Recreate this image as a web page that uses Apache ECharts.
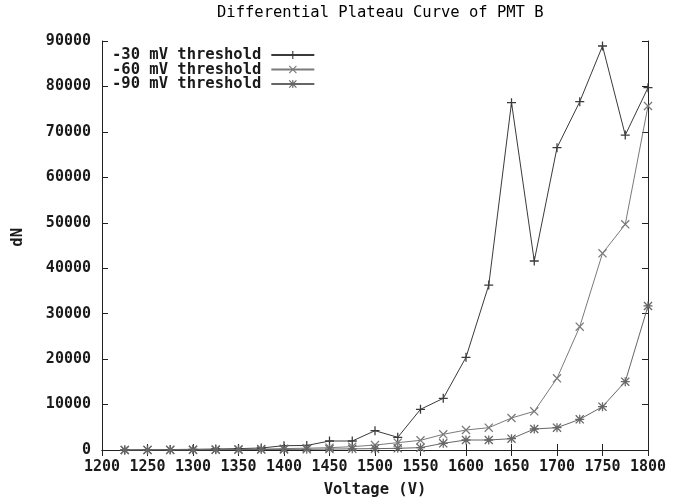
<!DOCTYPE html>
<html>
<head>
<meta charset="utf-8">
<script src="https://cdn.jsdelivr.net/npm/echarts@6/dist/echarts.min.js"></script>
<style>html,body{margin:0;padding:0;background:#fff}#c{width:673px;height:504px}</style>
</head>
<body>
<div id="c"></div>
<script>
const voltages = [1225,1250,1275,1300,1325,1350,1375,1400,1425,1450,1475,1500,1525,1550,1575,1600,1625,1650,1675,1700,1725,1750,1775,1800];
const thr30 = [0,50,100,150,220,300,440,950,1000,1980,1980,4250,2790,8950,11370,20400,36300,76430,41590,66520,76640,88900,69300,79730];
const thr60 = [0,20,40,60,100,150,200,300,400,510,730,1100,1610,2130,3450,4400,4910,7040,8510,15780,27130,43280,49660,75700];
const thr90 = [0,10,20,30,50,80,100,130,150,200,250,300,370,520,1470,2200,2200,2490,4620,4910,6750,9540,15040,31690];
const seriesNames = ['-30 mV threshold','-60 mV threshold','-90 mV threshold'];
const titleText = 'Differential Plateau Curve of PMT B';
const xName = 'Voltage (V)';
const yName = 'dN';

const FONT = 'DejaVu Sans Mono';
const PLUS = 'path://M4.3,0H5.7V10H4.3Z M0,4.3H10V5.7H0Z';
const CROSS = 'path://M0,1L1,0L10,9L9,10Z M9,0L10,1L1,10L0,9Z';
const STAR = 'path://M4.3,0H5.7V10H4.3Z M0,4.3H10V5.7H0Z M0,1L1,0L10,9L9,10Z M9,0L10,1L1,10L0,9Z';

function pairs(vals){ return voltages.map((v,i)=>[v, vals[i]]); }

const chart = echarts.init(document.getElementById('c'));
const axisCommon = {
  axisLine:{show:true, lineStyle:{color:'#222', width:1}},
  axisTick:{show:true, inside:true, length:6, lineStyle:{color:'#222'}},
  splitLine:{show:false}
};
const labelStyle = {fontFamily:FONT, fontSize:15, fontWeight:'bold', color:'#1a1a1a'};
const legendStyle = {fontFamily:FONT, fontSize:15.5, fontWeight:'bold', color:'#1a1a1a'};
function mkSeries(name, vals, sym, color){
  return {
    name, type:'line', data:pairs(vals), xAxisIndex:0, yAxisIndex:0,
    symbol:sym, symbolSize:9, showSymbol:true,
    lineStyle:{color, width:1}, itemStyle:{color},
    emphasis:{disabled:true}
  };
}
chart.setOption({
  animation:false,
  backgroundColor:'#fff',
  title:{text:titleText, left:212, top:0,
    textStyle:{fontFamily:FONT, fontSize:15.5, fontWeight:'normal', color:'#000'}},
  legend:{
    orient:'vertical', left:107, top:42, align:'right',
    itemWidth:43, itemHeight:10, itemGap:-1.5,
    textStyle:Object.assign({padding:[0,5,0,0]}, legendStyle),
    data:seriesNames
  },
  grid:{left:102, right:25, top:41, bottom:54, containLabel:false},
  xAxis:[
    Object.assign({type:'value', min:1200, max:1800, interval:50, position:'bottom',
      name:xName, nameLocation:'middle', nameGap:32,
      nameTextStyle:legendStyle,
      axisLabel:Object.assign({margin:10, showMinLabel:true, showMaxLabel:true, hideOverlap:false,
        formatter:v=>String(v)}, labelStyle)}, axisCommon),
    Object.assign({type:'value', min:1200, max:1800, interval:50, position:'top',
      axisLabel:{show:false}}, axisCommon)
  ],
  yAxis:[
    Object.assign({type:'value', min:0, max:90000, interval:10000, position:'left',
      axisLabel:Object.assign({margin:11, formatter:v=>String(v)}, labelStyle)}, axisCommon),
    Object.assign({type:'value', min:0, max:90000, interval:10000, position:'right',
      axisLabel:{show:false}}, axisCommon)
  ],
  graphic:[{type:'text', left:10, top:228, rotation:Math.PI/2,
    style:{text:yName, font:'bold 15.5px "DejaVu Sans Mono"', fill:'#1a1a1a'}}],
  series:[
    mkSeries(seriesNames[0], thr30, PLUS, '#3a3a3a'),
    mkSeries(seriesNames[1], thr60, CROSS, '#7a7a7a'),
    mkSeries(seriesNames[2], thr90, STAR, '#666666')
  ]
});
</script>
</body>
</html>
